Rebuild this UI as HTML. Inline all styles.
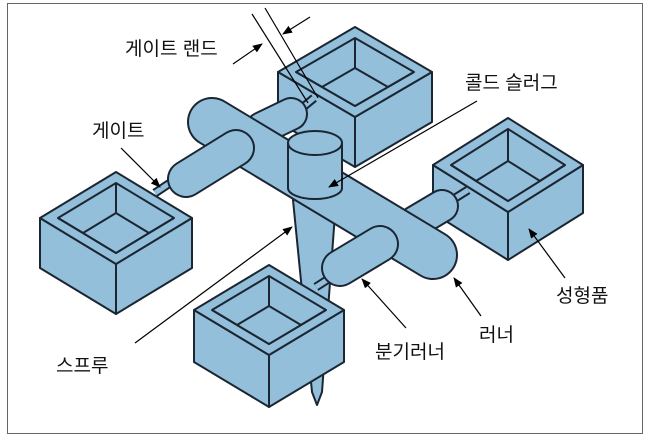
<!DOCTYPE html>
<html><head><meta charset="utf-8"><style>
html,body{margin:0;padding:0;background:#fff;}
svg{display:block;}
text{font-family:"Liberation Sans","Noto Sans CJK KR",sans-serif;font-size:19px;fill:#111;}
</style></head><body>
<svg width="650" height="438" viewBox="0 0 650 438" xmlns="http://www.w3.org/2000/svg">
<defs><marker id="a" markerWidth="10" markerHeight="8" refX="9" refY="4" orient="auto" markerUnits="userSpaceOnUse"><path d="M0,0 L10,4 L0,8 Z" fill="#000"/></marker></defs>
<rect x="7.5" y="3.5" width="635" height="430" fill="#fff" stroke="#666" stroke-width="1"/>
<g fill="#93bfdb" stroke="#1b2633" stroke-width="2" stroke-linejoin="round">
<polygon points="278,72 355,117 355,167 278,122"/><polygon points="355,117 432,72 432,122 355,167"/>
<polygon points="278,72 355,27 432,72 355,117"/>
<polygon points="296,72 355,38 414,72 355,106"/><polygon points="322,87 355,68 388,87 355,106"/>
<path d="M296,72L322,87M355,38L355,68M414,72L388,87" fill="none"/>
<polygon points="40,218 116,264 116,314 40,268"/><polygon points="116,264 192,218 192,268 116,314"/>
<polygon points="40,218 116,172 192,218 116,264"/>
<polygon points="58,218 116,183 174,218 116,253"/><polygon points="83,233 116,213 149,233 116,253"/>
<path d="M58,218L83,233M116,183L116,213M174,218L149,233" fill="none"/>
<polygon points="433,165 508,212 508,260 433,213"/><polygon points="508,212 583,165 583,213 508,260"/>
<polygon points="433,165 508,118 583,165 508,212"/>
<polygon points="451,165 508,129 565,165 508,201"/><polygon points="476,181 508,161 540,181 508,201"/>
<path d="M451,165L476,181M508,129L508,161M565,165L540,181" fill="none"/>
<polygon points="293,200 336,200 322,392 317,405 312,392"/>
<polygon points="194,310 269,355 269,407 194,362"/><polygon points="269,355 344,310 344,362 269,407"/>
<polygon points="194,310 269,265 344,310 269,355"/>
<polygon points="212,310 269,276 326,310 269,344"/><polygon points="237,325 269,306 301,325 269,344"/>
<path d="M212,310L237,325M269,276L269,306M326,310L301,325" fill="none"/>
</g>
<g stroke="#1b2633" stroke-width="9"><line x1="170" y1="183" x2="155" y2="193"/><line x1="452" y1="200" x2="468" y2="190"/><line x1="302" y1="108" x2="314" y2="98"/><line x1="316" y1="287" x2="330" y2="278"/></g>
<g stroke="#93bfdb" stroke-width="5"><line x1="170" y1="183" x2="155" y2="193"/><line x1="452" y1="200" x2="468" y2="190"/><line x1="302" y1="108" x2="314" y2="98"/><line x1="316" y1="287" x2="330" y2="278"/></g>
<!-- top/right branches -->
<line x1="262" y1="128" x2="291" y2="114" stroke="#1b2633" stroke-width="34" stroke-linecap="round"/>
<line x1="262" y1="128" x2="291" y2="114" stroke="#93bfdb" stroke-width="30" stroke-linecap="round"/>
<line x1="415" y1="222" x2="442" y2="206" stroke="#1b2633" stroke-width="34" stroke-linecap="round"/>
<line x1="415" y1="222" x2="442" y2="206" stroke="#93bfdb" stroke-width="30" stroke-linecap="round"/>
<line x1="212" y1="122" x2="433" y2="255" stroke="#1b2633" stroke-width="50" stroke-linecap="round"/>
<line x1="212" y1="122" x2="433" y2="255" stroke="#93bfdb" stroke-width="46" stroke-linecap="round"/>
<line x1="236" y1="148" x2="186" y2="179" stroke="#1b2633" stroke-width="38" stroke-linecap="round"/>
<line x1="236" y1="148" x2="186" y2="179" stroke="#93bfdb" stroke-width="34" stroke-linecap="round"/>
<line x1="380" y1="244" x2="340" y2="268" stroke="#1b2633" stroke-width="38" stroke-linecap="round"/>
<line x1="380" y1="244" x2="340" y2="268" stroke="#93bfdb" stroke-width="34" stroke-linecap="round"/>
<g fill="#93bfdb" stroke="#1b2633" stroke-width="2">
<path d="M288,143 L288,188 A27,11 0 0 0 342,188 L342,143 Z"/>
<ellipse cx="315" cy="143" rx="27" ry="12"/>
</g>
<g stroke="#000" stroke-width="1.2" fill="none">
<line x1="252" y1="14" x2="308" y2="103"/><line x1="265" y1="8" x2="318" y2="98"/>
<line x1="233" y1="64" x2="262" y2="44" marker-end="url(#a)"/>
<line x1="310" y1="17" x2="283" y2="34" marker-end="url(#a)"/>
<line x1="477" y1="101" x2="329" y2="187" marker-end="url(#a)"/>
<line x1="121" y1="148" x2="160" y2="187" marker-end="url(#a)"/>
<line x1="565" y1="278" x2="529" y2="229" marker-end="url(#a)"/>
<line x1="481" y1="316" x2="454" y2="278" marker-end="url(#a)"/>
<line x1="406" y1="328" x2="362" y2="279" marker-end="url(#a)"/>
<line x1="135" y1="343" x2="292" y2="227" marker-end="url(#a)"/>
</g>
<text x="125" y="55">게이트 랜드</text>
<text x="465" y="89">콜드 슬러그</text>
<text x="92" y="137">게이트</text>
<text x="556" y="302">성형품</text>
<text x="479" y="341">러너</text>
<text x="375" y="358">분기러너</text>
<text x="56" y="372">스프루</text>
</svg>
</body></html>
